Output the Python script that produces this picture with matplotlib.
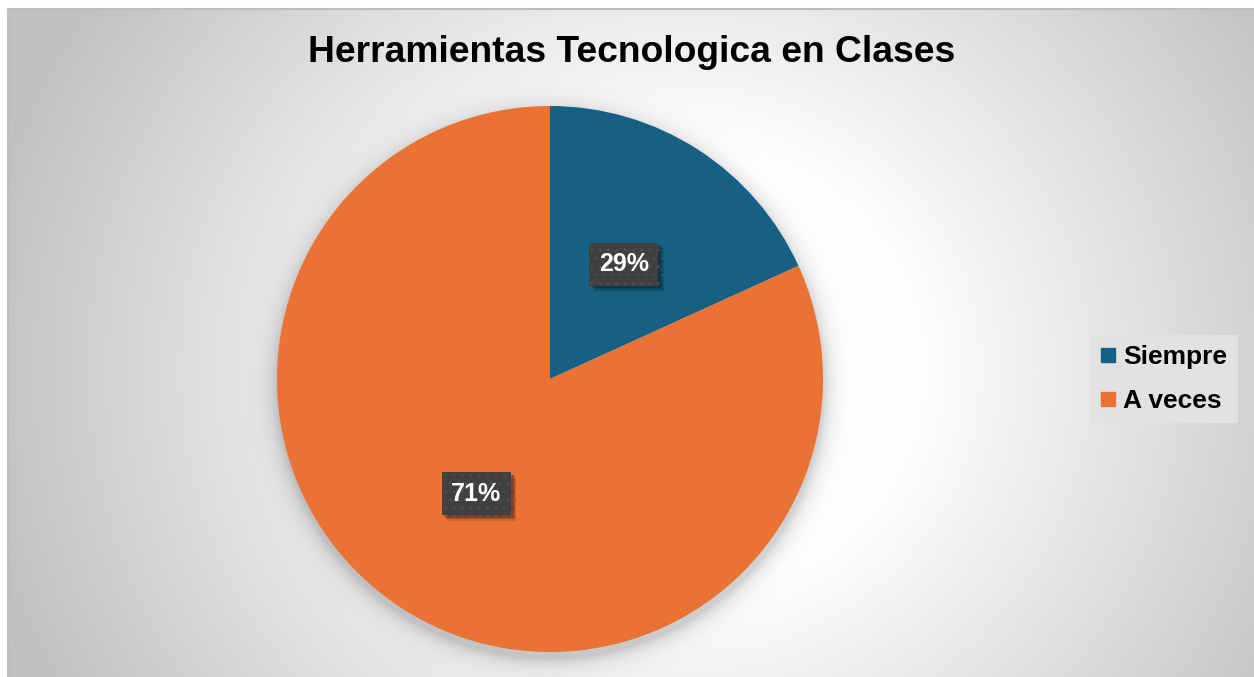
import numpy as np
import matplotlib
matplotlib.use("Agg")
import matplotlib.pyplot as plt
from matplotlib.lines import Line2D
import matplotlib.patheffects as pe

# ---- data ----
categories = ["Siempre", "A veces"]
values = [18.2, 81.8]          # wedge sizes as drawn
labels = ["29%", "71%"]         # data labels as printed
colors = ["#166083", "#EA7234"]
title = "Herramientas Tecnologica en Clases"

W, H = 1254, 677
fig = plt.figure(figsize=(W / 100, H / 100), dpi=100)
fig.patch.set_facecolor("white")
plt.rcParams["font.family"] = ["Liberation Sans", "DejaVu Sans"]
plt.rcParams["hatch.linewidth"] = 0.6

pcx, pcy, r = 550, 379, 273

# ---- background gradient (chart area) with soft glow around the pie ----
x0, y0 = 8, 9
bg = fig.add_axes([x0 / W, 0, (W - x0) / W, (H - y0) / H], zorder=0)
yy, xx = np.mgrid[y0:H, x0:W].astype(float)
cx, cy = 680, 370
d = np.sqrt((xx - cx) ** 2 + ((yy - cy) / 0.95) ** 2)
val = np.clip(255 - (d - 230) * 0.13, 193, 255)
# pie shadow (blurred halo, slightly offset downward)
ds = np.sqrt((xx - pcx) ** 2 + (yy - (pcy + 6)) ** 2) - r
shadow = np.where(ds < 0, 1.0, np.exp(-np.clip(ds, 0, None) / 9.0))
val = val * (1 - 0.18 * shadow)
val = val / 255.0
img = np.dstack([val, val, val])
bg.imshow(img, aspect="auto", extent=[0, 1, 0, 1], origin="upper")
bg.set_xlim(0, 1); bg.set_ylim(0, 1)
bg.axis("off")
# border lines top / left
fig.add_artist(Line2D([x0 / W, 1], [1 - y0 / H, 1 - y0 / H], color="#bdbdbd", lw=1.5))
fig.add_artist(Line2D([x0 / W, x0 / W], [0, 1 - y0 / H], color="#bdbdbd", lw=1.5))

# ---- pie ----
ax = fig.add_axes([(pcx - r) / W, (H - pcy - r) / H, 2 * r / W, 2 * r / H], zorder=2)
wedges, _ = ax.pie(values, colors=colors, startangle=90, counterclock=False,
                   radius=1.0, wedgeprops=dict(linewidth=0))
ax.set_xlim(-1, 1); ax.set_ylim(-1, 1)
ax.set_aspect("equal")
ax.axis("off")

# data labels at half radius
for w, lab in zip(wedges, labels):
    ang = np.deg2rad((w.theta1 + w.theta2) / 2)
    tx, ty = 0.5 * np.cos(ang), 0.5 * np.sin(ang)
    t = ax.text(tx, ty, lab, ha="center", va="center", color="white",
                fontsize=18, fontweight="bold", zorder=5,
                bbox=dict(boxstyle="square,pad=0.38", facecolor="#404040",
                          edgecolor="#505050", linewidth=0, hatch=".."))
    t.get_bbox_patch().set_path_effects([
        pe.SimplePatchShadow(offset=(4, -4), shadow_rgbFace="#000000", alpha=0.12),
        pe.SimplePatchShadow(offset=(3, -3), shadow_rgbFace="#000000", alpha=0.15),
        pe.SimplePatchShadow(offset=(2, -2), shadow_rgbFace="#000000", alpha=0.2),
        pe.Normal()])

# ---- title ----
fig.text(632 / W, 1 - 52 / H, title, ha="center", va="center",
         fontsize=26.8, fontweight="bold", color="black")

# ---- legend ----
handles = [Line2D([], [], marker="s", linestyle="none", markersize=10,
                  markerfacecolor=c, markeredgecolor=c) for c in colors]
leg = fig.legend(handles, categories, loc="center",
                 bbox_to_anchor=(1164 / W, 1 - 379 / H),
                 prop=dict(size=19, weight="bold"), frameon=True,
                 fancybox=False, framealpha=1, handlelength=0.55,
                 handletextpad=0.3, labelspacing=0.75, borderpad=0.4)
leg.get_frame().set_facecolor("#e2e2e2")
leg.get_frame().set_edgecolor("none")

fig.savefig("out.png", dpi=100)
